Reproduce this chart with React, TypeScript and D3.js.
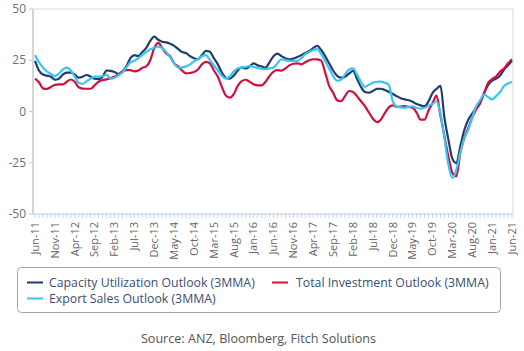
import React from "react";
import * as d3 from "d3";

const startYear = 2011;
const startMonth = 5; // June (0-based)
const monthNames = ["Jan","Feb","Mar","Apr","May","Jun","Jul","Aug","Sep","Oct","Nov","Dec"];

const capacity = [
  24.7, 20, 18, 17.5, 17, 15.5, 16, 18, 19, 19, 18, 16.5, 17, 17.8, 17, 16, 15.8, 17, 20, 19.8,
  19.3, 18.3, 19.5, 22, 26, 27.5, 27, 29, 31, 34.5, 36.5, 35, 34, 33.7, 33, 32, 30.5, 29, 28.5, 27,
  26, 25.5, 27.5, 29.6, 29.1, 26, 23, 19, 16.5, 16, 17.5, 20, 21.5, 21, 22, 23.5, 22.5, 22, 21.4, 24,
  27, 28.2, 27, 26, 25.5, 25.8, 26.6, 27.5, 28.5, 29.5, 31, 32, 30, 27, 23.5, 20, 17.4, 16.5, 17, 18.5,
  19.8, 16, 12, 9.5, 9.2, 10, 11, 11.1, 10.5, 9.6, 8.5, 7.5, 6.5, 5.9, 5.5, 4.8, 3.6, 3, 2.6, 5,
  9, 11, 12.5, -3, -13.7, -23, -25.2, -17, -9, -4, -1, 2, 5, 9, 13, 15, 16, 17.5, 20.5, 22.5,
  24.7,
];

const investment = [
  16, 14.3, 11.3, 11, 12, 13, 13.2, 13.2, 14.5, 15.6, 14.5, 11.8, 11.2, 11.1, 11.1, 12.8, 14.5, 15.3, 15.7, 16.2,
  17, 18.1, 19.5, 20.2, 20.2, 19.6, 20, 21.3, 22, 25, 31, 33.5, 31, 28.3, 27, 23.5, 22, 20, 18.6, 18.8,
  19.3, 20.5, 23, 24.2, 23.5, 20, 17, 12, 7.8, 6.8, 8.5, 12.5, 14.8, 15.5, 14.5, 13.3, 12.7, 12.7, 14.5, 17.3,
  19.5, 20.2, 19.9, 21, 22.5, 23.3, 23.5, 23, 24, 25, 25.5, 25.4, 24.8, 19, 12.5, 9.2, 5.5, 5, 7.5, 10,
  9.5, 7.5, 5, 2.6, -0.5, -3.5, -5.2, -4, -0.8, 2, 3, 2.3, 2.4, 2.6, 2.2, 1.8, -0.5, -4, -4, 0.5,
  4, 7.8, -2, -12, -22, -30, -31.7, -20, -13, -8, -3, 1, 4, 9, 14, 15.8, 17, 19.5, 21, 23.5,
  25.5,
];

const exportSales = [
  27.5, 24, 21.5, 19.5, 18.3, 17.3, 18.5, 20.5, 21.4, 20, 17, 14, 13.5, 14.8, 16, 17, 17, 17.3, 18, 16,
  16.5, 17.6, 19, 21.5, 24, 24.8, 26, 27.6, 29, 30.3, 31, 31.6, 31, 29, 26.5, 23.5, 21.4, 21.5, 22, 23,
  24.5, 25.5, 27, 27.5, 25, 22.5, 20, 17.5, 16, 17, 19.5, 21, 21.4, 21.8, 22.2, 21.8, 21.2, 20.8, 20.6, 21,
  21.4, 23.5, 25.5, 25, 24.7, 24.7, 24.7, 26, 28, 29, 30, 30.4, 28, 24.7, 21, 17.3, 15, 15.5, 18.1, 20.5,
  21, 18, 14.5, 12, 13, 14, 14.5, 14.6, 14, 13, 5, 2.4, 2, 1.8, 2.3, 2.5, 1.8, 1.4, 1.8, 2.8,
  3.7, 5, -1, -13, -26, -32.5, -28.4, -20, -13, -9, -3, 2.5, 5.5, 8.3, 7, 5.9, 7.5, 9.5, 12.4, 13.7,
  14.4,
];

const yTicks = [50, 25, 0, -25, -50];
const labelEvery = 5;

const seriesNames = [
  "Capacity Utilization Outlook (3MMA)",
  "Total Investment Outlook (3MMA)",
  "Export Sales Outlook (3MMA)",
];
const sourceText = "Source: ANZ, Bloomberg, Fitch Solutions";

function monthLabel(i: number) {
  const m = (startMonth + i) % 12;
  const y = startYear + Math.floor((startMonth + i) / 12);
  return `${monthNames[m]}-${String(y % 100).padStart(2, "0")}`;
}

export default function App() {
  const W = 524, H = 351;
  const n = capacity.length;
  const x = d3.scaleLinear().domain([0, n - 1]).range([35, 512]);
  const y = d3.scaleLinear().domain([-50, 50]).range([214, 9]);
  const line = d3
    .line<number>()
    .x((_, i) => x(i))
    .y((d) => y(d))
    .curve(d3.curveMonotoneX);

  const font = "'Open Sans', 'Noto Sans', sans-serif";
  const series = [
    { name: seriesNames[0], data: capacity, color: "#203d6b" },
    { name: seriesNames[1], data: investment, color: "#d0103a" },
    { name: seriesNames[2], data: exportSales, color: "#36c5f4" },
  ];
  const idx = d3.range(n);
  const labelIdx = idx.filter((i) => i % labelEvery === 0);

  return (
    <svg width={W} height={H} style={{ position: "absolute", left: 0, top: 0 }} fontFamily={font}>
      <rect x={0} y={0} width={W} height={H} fill="#fff" />
      {/* frame */}
      <line x1={33} x2={513} y1={9} y2={9} stroke="#d9d9d9" strokeWidth={1} />
      <line x1={513} x2={513} y1={9} y2={214} stroke="#d9d9d9" strokeWidth={1} />
      <line x1={33} x2={33} y1={9} y2={214} stroke="#c8c8c8" strokeWidth={1.5} />
      {/* y ticks */}
      {yTicks.map((t) => (
        <g key={t}>
          <line x1={29} x2={33} y1={y(t)} y2={y(t)} stroke="#b8cce4" strokeWidth={1} />
          <text x={26} y={y(t)} dy="0.35em" textAnchor="end" fontSize={12} fill="#707070">
            {t}
          </text>
        </g>
      ))}
      {/* x axis */}
      <line x1={33} x2={513} y1={214} y2={214} stroke="#b8cce4" strokeWidth={1} />
      {idx.map((i) => (
        <line key={i} x1={x(i)} x2={x(i)} y1={214} y2={218} stroke="#b8cce4" strokeWidth={0.8} />
      ))}
      {labelIdx.map((i) => (
        <text
          key={i}
          transform={`translate(${x(i)},222) rotate(-90)`}
          textAnchor="end"
          dy="0.35em"
          fontSize={11}
          fill="#666"
        >
          {monthLabel(i)}
        </text>
      ))}
      {/* lines */}
      {series.map((s) => (
        <path key={s.name} d={line(s.data) || ""} fill="none" stroke={s.color} strokeWidth={2.2} strokeLinejoin="round" />
      ))}
      {/* legend */}
      <rect x={17.5} y={267.5} width={483} height={45} rx={4} fill="#fff" stroke="#a6a6a6" />
      <line x1={27} x2={43} y1={282.5} y2={282.5} stroke={series[0].color} strokeWidth={2} />
      <text x={49} y={282.5} dy="0.35em" fontSize={12.3} fill="#3b4e6c">{series[0].name}</text>
      <line x1={272} x2={288} y1={282.5} y2={282.5} stroke={series[1].color} strokeWidth={2} />
      <text x={296} y={282.5} dy="0.35em" fontSize={12.3} fill="#3b4e6c">{series[1].name}</text>
      <line x1={27} x2={43} y1={298.5} y2={298.5} stroke={series[2].color} strokeWidth={2} />
      <text x={49} y={298.5} dy="0.35em" fontSize={12.3} fill="#3b4e6c">{series[2].name}</text>
      {/* source */}
      <text x={258.5} y={339} dy="0.35em" textAnchor="middle" fontSize={12.6} fill="#555">
        {sourceText}
      </text>
    </svg>
  );
}
